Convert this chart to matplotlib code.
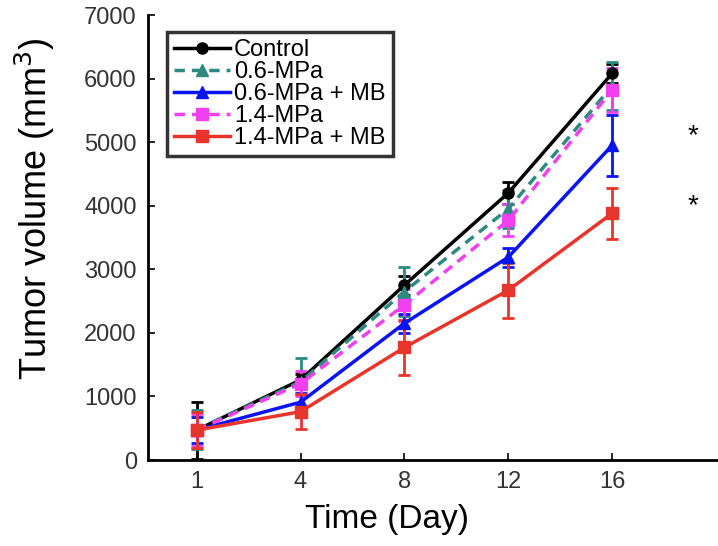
import matplotlib
matplotlib.use("Agg")
import matplotlib.pyplot as plt
import numpy as np

plt.rcParams['font.family'] = ['Liberation Sans', 'DejaVu Sans']

days = ["1", "4", "8", "12", "16"]
series_names = ["Control", "0.6-MPa", "0.6-MPa + MB", "1.4-MPa", "1.4-MPa + MB"]
control = [470, 1260, 2750, 4200, 6080]
control_err = [450, 100, 150, 170, 150]
mpa06 = [480, 1230, 2650, 3950, 5880]
mpa06_err = [300, 380, 380, 300, 380]
mpa06_mb = [470, 910, 2150, 3190, 4950]
mpa06_mb_err = [200, 150, 150, 150, 480]
mpa14 = [470, 1200, 2440, 3770, 5820]
mpa14_err = [250, 200, 250, 250, 350]
mpa14_mb = [470, 760, 1770, 2670, 3880]
mpa14_mb_err = [280, 280, 430, 430, 400]
star_values = [5100, 4000]

values = [control, mpa06, mpa06_mb, mpa14, mpa14_mb]
errors = [control_err, mpa06_err, mpa06_mb_err, mpa14_err, mpa14_mb_err]
colors = ["#000000", "#2e8a80", "#0a14f0", "#f040f0", "#e8352b"]
styles = ["-", (0, (3, 2)), "-", (0, (3, 2)), "-"]
markers = ["o", "^", "^", "s", "s"]

fig = plt.figure(figsize=(7.18, 5.46), dpi=100)
ax = fig.add_axes([0.206, 0.1575, 0.794, 0.815])
x = np.arange(len(days))

handles = []
for name, v, e, c, ls, m in zip(series_names, values, errors, colors, styles, markers):
    ax.errorbar(x, v, yerr=e, color=c, linestyle='none', capsize=4, capthick=2,
                elinewidth=2, zorder=2)
    h, = ax.plot(x, v, color=c, linestyle=ls, linewidth=2.5, marker=m,
                 markersize=8, label=name, zorder=3)
    handles.append(h)

for sv in star_values:
    ax.text(x[-1] + 0.78, sv, "*", fontsize=20, ha='center', va='center')

ax.set_xlim(-0.47, 5.02)
ax.set_ylim(0, 7000)
ax.set_xticks(x)
ax.set_xticklabels(days)
ax.set_yticks(np.arange(0, 7001, 1000))
ax.tick_params(direction='in', labelsize=17, length=5, width=1.2, pad=8,
               labelcolor='#333333')
ax.spines['top'].set_visible(False)
ax.spines['right'].set_visible(False)
for s in ['left', 'bottom']:
    ax.spines[s].set_linewidth(2)
ax.set_xlabel("Time (Day)", fontsize=24)
ax.xaxis.set_label_coords(0.42, -0.098)
ax.set_ylabel("Tumor volume (mm$^3$)", fontsize=26, va='center')
ax.yaxis.set_label_coords(-0.198, 0.564)

leg = ax.legend(handles=handles, loc='upper left', bbox_to_anchor=(0.033, 0.962),
                fontsize=17, handlelength=2.4, handletextpad=0.15,
                labelspacing=0.0, borderpad=0.3, fancybox=False,
                borderaxespad=0)
leg.get_frame().set_edgecolor('black')
leg.get_frame().set_linewidth(2.5)

fig.savefig("out.png", dpi=100)
